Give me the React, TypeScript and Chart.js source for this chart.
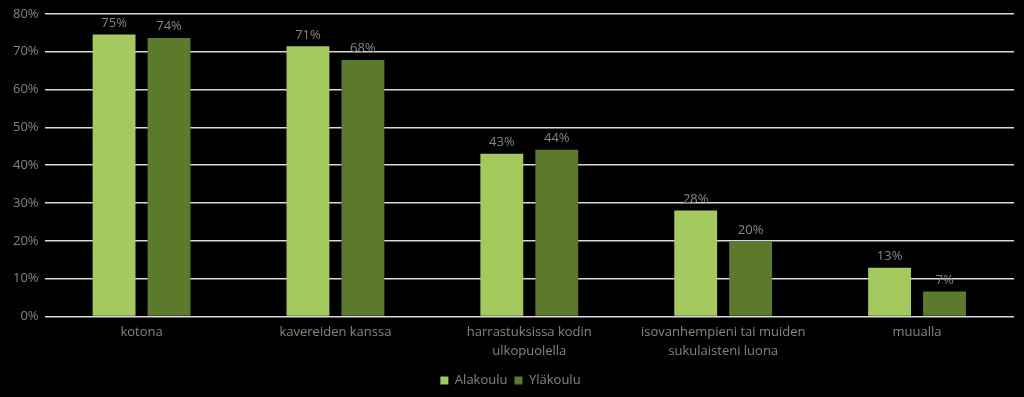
import React, { useEffect, useRef } from "react";
import { Chart, registerables } from "chart.js";

Chart.register(...registerables);

const categories: (string | string[])[] = [
  "kotona",
  "kavereiden kanssa",
  ["harrastuksissa kodin", "ulkopuolella"],
  ["isovanhempieni tai muiden", "sukulaisteni luona"],
  "muualla",
];
const seriesNames = ["Alakoulu", "Yläkoulu"];
const alakoulu = [74.5, 71.4, 43.0, 28.0, 12.9];
const ylakoulu = [73.6, 67.8, 44.1, 19.8, 6.6];
const alakouluLabels = ["75%", "71%", "43%", "28%", "13%"];
const ylakouluLabels = ["74%", "68%", "44%", "20%", "7%"];
const yTicks = [0, 10, 20, 30, 40, 50, 60, 70, 80];

const FONT = "'Open Sans', sans-serif";
const TEXT = "#858585";

const dataLabelPlugin = {
  id: "dataLabels",
  afterDatasetsDraw(chart: any) {
    const ctx = chart.ctx;
    const labelSets = [alakouluLabels, ylakouluLabels];
    ctx.save();
    ctx.fillStyle = TEXT;
    ctx.font = `13px ${FONT}`;
    ctx.textAlign = "center";
    ctx.textBaseline = "bottom";
    chart.data.datasets.forEach((_: any, di: number) => {
      const meta = chart.getDatasetMeta(di);
      meta.data.forEach((bar: any, i: number) => {
        ctx.fillText(labelSets[di][i], bar.x, bar.y - 5);
      });
    });
    ctx.restore();
  },
};

export default function App() {
  const ref = useRef<HTMLCanvasElement>(null);
  useEffect(() => {
    const chart = new Chart(ref.current!, {
      type: "bar",
      data: {
        labels: categories,
        datasets: [
          {
            label: seriesNames[0],
            data: alakoulu,
            backgroundColor: "#a4c95c",
            categoryPercentage: 0.567,
            barPercentage: 0.78,
          },
          {
            label: seriesNames[1],
            data: ylakoulu,
            backgroundColor: "#5b7a2c",
            categoryPercentage: 0.567,
            barPercentage: 0.78,
          },
        ],
      },
      options: {
        animation: false,
        responsive: false,
        maintainAspectRatio: false,
        layout: { padding: { top: 0, right: 10, left: 7, bottom: 0 } },
        scales: {
          y: {
            min: 0,
            max: 80,
            afterBuildTicks: (axis: any) => {
              axis.ticks = yTicks.map((v) => ({ value: v }));
            },
            ticks: {
              color: TEXT,
              font: { family: FONT, size: 13 },
              callback: (v: any) => v + "%",
              padding: 6,
            },
            grid: { color: "#d9d9d9", lineWidth: 1.5, drawTicks: false },
            border: { display: false },
          },
          x: {
            ticks: {
              color: TEXT,
              font: { family: FONT, size: 13, lineHeight: 1.4 },
              padding: 7,
              maxRotation: 0,
            },
            grid: { display: false, drawTicks: false },
            border: { display: false },
          },
        },
        plugins: {
          legend: {
            position: "bottom",
            labels: {
              color: TEXT,
              font: { family: FONT, size: 13, lineHeight: 1.0 },
              boxWidth: 8,
              boxHeight: 8,
              padding: 7,
            },
          },
          tooltip: { enabled: false },
        },
      },
      plugins: [dataLabelPlugin],
    });
    return () => chart.destroy();
  }, []);
  return (
    <div style={{ position: "fixed", left: 0, top: 0, width: 1024, height: 397, background: "#000" }}>
      <canvas ref={ref} width={1024} height={397} style={{ display: "block" }} />
    </div>
  );
}
